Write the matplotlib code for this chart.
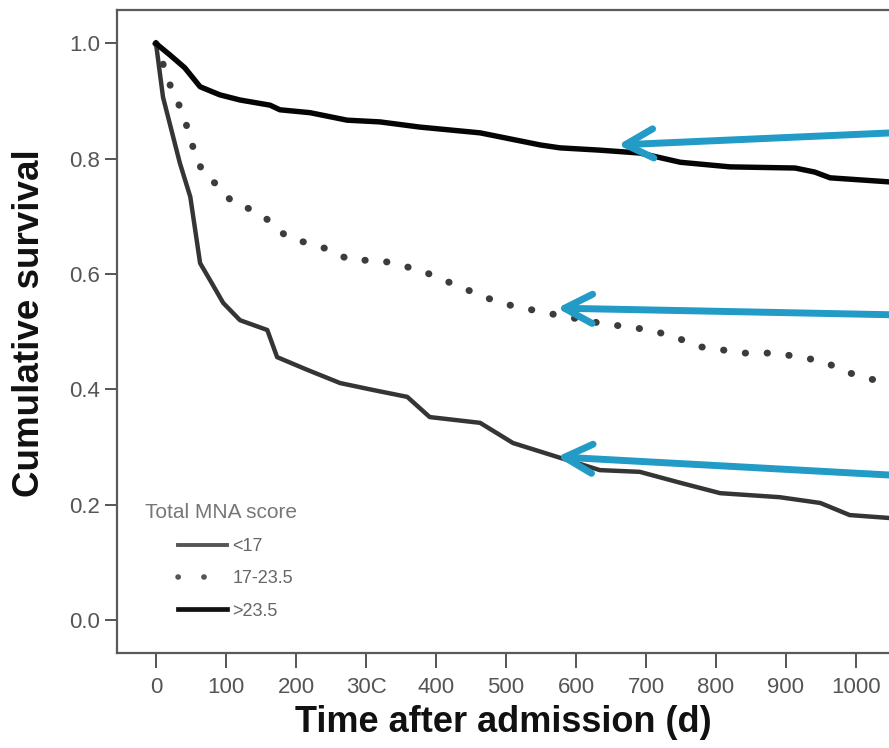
import matplotlib
matplotlib.use("Agg")
import matplotlib.pyplot as plt
from matplotlib.lines import Line2D

# Kaplan-Meier survival by total MNA score group (days after admission)
days_high = [0, 20, 41, 63, 91, 120, 163, 177, 220, 273, 320, 377, 463, 549,
             577, 634, 691, 749, 820, 913, 941, 963, 1047]
surv_high = [1.0, 0.980, 0.958, 0.925, 0.911, 0.902, 0.893, 0.885, 0.880, 0.867,
             0.864, 0.855, 0.845, 0.824, 0.819, 0.815, 0.810, 0.794, 0.786,
             0.784, 0.777, 0.767, 0.760]

days_mid = [0, 13, 24, 39, 49, 67, 91, 110, 139, 166, 187, 216, 249, 277, 320,
            377, 434, 491, 556, 634, 706, 741, 777, 841, 884, 920, 956, 977,
            1013, 1047]
surv_mid = [1.0, 0.954, 0.914, 0.879, 0.833, 0.775, 0.751, 0.723, 0.711, 0.689,
            0.664, 0.654, 0.642, 0.624, 0.624, 0.607, 0.578, 0.550, 0.533,
            0.515, 0.503, 0.491, 0.474, 0.463, 0.463, 0.456, 0.448, 0.434,
            0.420, 0.411]

days_low = [0, 10, 34, 49, 63, 77, 96, 120, 159, 173, 216, 263, 310, 359, 391,
            463, 510, 573, 634, 691, 749, 806, 891, 949, 991, 1047]
surv_low = [1.0, 0.907, 0.793, 0.734, 0.619, 0.590, 0.550, 0.520, 0.503, 0.456,
            0.434, 0.411, 0.399, 0.387, 0.352, 0.342, 0.307, 0.283, 0.260,
            0.257, 0.238, 0.220, 0.213, 0.203, 0.182, 0.177]

group_labels = ["<17", "17-23.5", ">23.5"]
x_ticks = [0, 100, 200, 300, 400, 500, 600, 700, 800, 900, 1000]
x_ticklabels = ["0", "100", "200", "30C", "400", "500", "600", "700", "800",
                "900", "1000"]
y_ticks = [0.0, 0.2, 0.4, 0.6, 0.8, 1.0]

# callout arrows: (tip day, tip survival) <- (tail day, tail survival)
arrow_tips = [(660, 0.824), (573, 0.541), (573, 0.283)]
arrow_tails = [(1070, 0.846), (1070, 0.529), (1070, 0.250)]

plt.rcParams["font.family"] = ["Liberation Sans", "DejaVu Sans"]

W, H = 889, 748
fig = plt.figure(figsize=(W / 100, H / 100), dpi=100)
fig.patch.set_facecolor("white")

# axes frame runs off the right edge of the figure
left, right, top, bottom = 117, 920, 10, 653
ax = fig.add_axes([left / W, (H - bottom) / H, (right - left) / W, (bottom - top) / H])
ax.set_xlim((left - 156) / 0.70, (right - 156) / 0.70)
ax.set_ylim((620 - bottom) / 576.5, (620 - top) / 576.5)

ax.plot(days_low, surv_low, color="#353535", lw=3.2, solid_joinstyle="round")
ax.plot(days_mid, surv_mid, color="#3c3c3c", lw=5.0,
        linestyle=(0, (0.05, 3.1)), dash_capstyle="round")
ax.plot(days_high, surv_high, color="#050505", lw=3.9, solid_joinstyle="round")

for (tx, ty), (sx, sy) in zip(arrow_tips, arrow_tails):
    ax.annotate("", xy=(tx, ty), xytext=(sx, sy), annotation_clip=False,
                arrowprops=dict(arrowstyle="->,head_length=2.0,head_width=1.05",
                                color="#229bc6", lw=5, mutation_scale=10,
                                capstyle="round", joinstyle="round",
                                shrinkA=0, shrinkB=0))

for side in ["left", "bottom", "top", "right"]:
    ax.spines[side].set_color("#5a5a5a")
    ax.spines[side].set_linewidth(1.6)

ax.set_xticks(x_ticks)
ax.set_xticklabels(x_ticklabels)
ax.set_yticks(y_ticks)
ax.set_yticklabels([f"{v:.1f}" for v in y_ticks])
ax.tick_params(axis="x", length=11, width=1.4, color="#555555", pad=6,
               labelsize=16, labelcolor="#555555")
ax.tick_params(axis="y", length=9, width=1.4, color="#555555", pad=3,
               labelsize=16, labelcolor="#555555")

fig.text(503 / W, 1 - 722 / H, "Time after admission (d)", fontsize=26,
         fontweight="bold", color="#111111", ha="center", va="center")
fig.text(30 / W, 1 - 323 / H, "Cumulative survival", fontsize=26.5,
         fontweight="bold", color="#111111", ha="center", va="center",
         rotation=90)

# legend: title sits flush left, entries are indented under it
fig.text(145 / W, 1 - 513 / H, "Total MNA score", fontsize=15,
         color="#777777", ha="left", va="center")
handles = [
    Line2D([], [], color="#555555", lw=2.8),
    Line2D([], [], color="#555555", lw=4.0, linestyle=(0, (0.05, 4.6)),
           dash_capstyle="round"),
    Line2D([], [], color="#111111", lw=3.4),
]
leg = ax.legend(handles, group_labels, loc="upper left",
                bbox_to_anchor=((178 - left) / (right - left),
                                (bottom - 538) / (bottom - top)),
                frameon=False, fontsize=13,
                handlelength=2.7, handletextpad=0.3, labelspacing=0.85,
                borderaxespad=0, borderpad=0)
for t in leg.get_texts():
    t.set_color("#666666")

fig.savefig("out.png", dpi=100)
